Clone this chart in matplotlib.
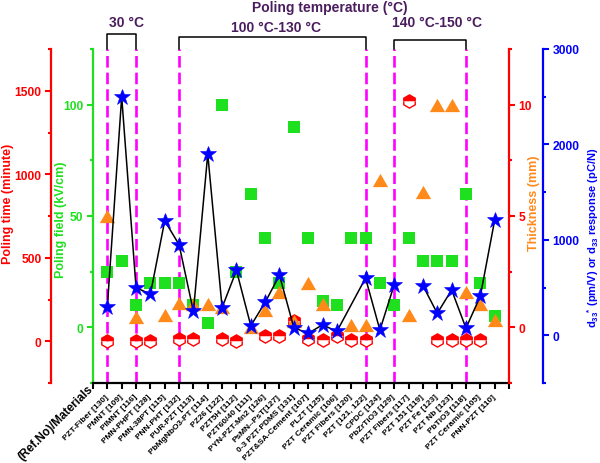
import numpy as np
import matplotlib.pyplot as plt
from matplotlib.ticker import MultipleLocator

plt.rcParams['font.family'] = ['Liberation Sans', 'DejaVu Sans']
plt.rcParams['font.weight'] = 'bold'
plt.rcParams['mathtext.fontset'] = 'custom'
plt.rcParams['mathtext.rm'] = 'Liberation Sans:bold'
plt.rcParams['mathtext.bf'] = 'Liberation Sans:bold'
plt.rcParams['mathtext.it'] = 'Liberation Sans:bold'

nan = np.nan

# materials (ref. no.)
materials = ['PZT-Fiber [130]', 'PMNT [109]', 'PIMNT [116]', 'PMN-PHPT [128]',
             'PMN-38PT [115]', 'PNN-PHT [132]', 'PUR-PZT [113]', 'PbMgNbO3-PT [114]',
             'PZ26 [122]', 'PZT5H [112]', 'PZT60/40 [111]', 'PYN-PZT-Mn2 [126]',
             'PsMN--PsT[127]', '0-3 PZT-PDMS [131]', 'PZT&SA-Cement [107]', 'PLZT [125]',
             'PZT Ceramic [106]', 'PZT Fibers [120]', 'PZT [121, 122]', 'CPDC [124]',
             'PbZrTiO3 [129]', 'PZT Fibers [117]', 'PZT 151 [119]', 'PZT Fe [123]',
             'PZT Nb [123]', 'PbTiO3 [118]', 'PZT Ceramic [105]', 'PNN-PZT [110]']

# poling time (minute)
poling_time = [0, nan, 0, 0, nan, 15, 15, nan, 15, 0, nan, 30, 30, 120,
               15, 10, 30, 10, 10, nan, nan, 1440, nan, 10, 10, 10, 10, nan]
# poling field (kV/cm)
poling_field = [25, 30, 10, 20, 20, 20, 10, 2, 100, 25, 60, 40, 20, 90,
                40, 12, 10, 40, 40, 20, 10, 40, 30, 30, 30, 60, 20, 5]
# thickness (mm)
thickness = [5, nan, 0.45, nan, 0.55, 1.1, 1.05, 1.05, 0.9, nan, 0, 0.8, 1.6, 0.3,
             2.0, 1.05, nan, 0.1, 0.1, 6.6, nan, 0.55, 6.1, 10, 10, 1.6, 1.05, 0.35]
# d33* (pm/V) or d33 (pC/N)
d33 = [300, 2500, 500, 430, 1200, 950, 250, 1900, 290, 680, 100, 345, 630, 80,
       20, 110, 40, nan, 600, 55, 530, nan, 520, 230, 475, 75, 410, 1205]

# poling temperature groups: first idx, last idx, label
temp_groups = [(0, 2, '30 °C'), (5, 18, '100 °C-130 °C'), (20, 25, '140 °C-150 °C')]

x = np.arange(len(materials))
d33 = np.array(d33)

RED = '#ff0000'
GREEN = '#1ee01e'
ORANGE = '#ff8a1a'
BLUE = '#0000ff'
PURPLE = '#4a1d5e'
MAGENTA = '#ff00ff'

fig = plt.figure(figsize=(6, 4.64), dpi=100)
ax = fig.add_axes([93 / 600, 1 - 384 / 464, 416 / 600, 334 / 464])
ax_time = ax.twinx()
ax_thk = ax.twinx()
ax_d33 = ax.twinx()

spine_w = 1.6
for a in (ax, ax_time, ax_thk, ax_d33):
    for s in a.spines.values():
        s.set_visible(False)
        s.set_linewidth(spine_w)

# main axes: poling field (green) + materials on x
ax.spines['left'].set_visible(True)
ax.spines['left'].set_color(GREEN)
ax.spines['bottom'].set_visible(True)
ax.spines['bottom'].set_color('black')
ax.set_xlim(-1, 28)
ax.set_xticks(np.arange(-1, 29))
ax.set_xticklabels([''] + materials + [''], rotation=45, ha='right', va='center',
                   rotation_mode='anchor', fontsize=6, fontweight='bold')
ax.tick_params(axis='x', direction='out', length=4.3, width=1.5, pad=4.5)
ax.set_ylim(-25, 125)
ax.yaxis.set_major_locator(MultipleLocator(50))
ax.yaxis.set_minor_locator(MultipleLocator(25))
ax.tick_params(axis='y', which='both', colors=GREEN, direction='out', width=1.5,
               labelsize=8.7, pad=2.5)
ax.tick_params(axis='y', which='major', length=4.3)
ax.tick_params(axis='y', which='minor', length=2.5)

# poling time (red, offset left)
ax_time.spines['left'].set_visible(True)
ax_time.spines['left'].set_color(RED)
ax_time.spines['left'].set_position(('axes', -42 / 416))
ax_time.yaxis.set_ticks_position('left')
ax_time.set_ylim(-250, 1750)
ax_time.yaxis.set_major_locator(MultipleLocator(500))
ax_time.yaxis.set_minor_locator(MultipleLocator(250))
ax_time.tick_params(axis='y', which='both', colors=RED, direction='out', width=1.5,
                    labelsize=8.7, pad=2.5)
ax_time.tick_params(axis='y', which='major', length=4.3)
ax_time.tick_params(axis='y', which='minor', length=2.5)

# thickness (red axis at right)
ax_thk.spines['right'].set_visible(True)
ax_thk.spines['right'].set_color(RED)
ax_thk.set_ylim(-2.5, 12.5)
ax_thk.yaxis.set_major_locator(MultipleLocator(5))
ax_thk.yaxis.set_minor_locator(MultipleLocator(2.5))
ax_thk.tick_params(axis='y', which='both', colors=RED, direction='out', width=1.5,
                   labelsize=8.7, pad=2.5)
ax_thk.tick_params(axis='y', which='major', length=4.3)
ax_thk.tick_params(axis='y', which='minor', length=2.5)

# d33 (blue axis, offset right)
ax_d33.spines['right'].set_visible(True)
ax_d33.spines['right'].set_color(BLUE)
ax_d33.spines['right'].set_position(('axes', 450 / 416))
ax_d33.set_ylim(-500, 3000)
ax_d33.yaxis.set_major_locator(MultipleLocator(1000))
ax_d33.yaxis.set_minor_locator(MultipleLocator(500))
ax_d33.tick_params(axis='y', which='both', colors=BLUE, direction='out', width=1.5,
                   labelsize=8.7, pad=2.5)
ax_d33.tick_params(axis='y', which='major', length=4.3)
ax_d33.tick_params(axis='y', which='minor', length=2.5)

# temperature dividers and brackets
xt = ax.get_xaxis_transform()
bracket_top = [1.045, 1.035, 1.028]
label_y = [1.081, 1.066, 1.082]
label_dx = [0.35, 0.25, 0.5]
for (i0, i1, lab), yt, ly, dx in zip(temp_groups, bracket_top, label_y, label_dx):
    for i in (i0, i1):
        ax.axvline(i, color=MAGENTA, lw=1.9, ls=(0, (4.4, 1.9)), zorder=0)
    ax.plot([i0, i0, i1, i1], [1, yt, yt, 1], color='black', lw=1.1,
            transform=xt, clip_on=False)
    ax.text((i0 + i1) / 2 + dx, ly, lab, transform=xt, ha='center', va='center',
            fontsize=10, fontweight='bold', color=PURPLE)

fig.text(330 / 600, 1 - 8 / 464, 'Poling temperature (°C)', ha='center', va='center',
         fontsize=10, fontweight='bold', color=PURPLE)

# data
ax.plot(x, poling_field, ls='none', marker='s', ms=8.6, mew=0, color=GREEN, zorder=3)
ax_time.plot(x, poling_time, ls='none', marker='h', ms=9.5, mew=1.0, mec=RED,
             mfc=RED, mfcalt='white', fillstyle='top', zorder=3)
tri = [(0, 0.87), (-1, -0.87), (1, -0.87)]
ax_thk.plot(x, thickness, ls='none', marker=tri, ms=11, mew=0, color=ORANGE, zorder=3)

ok = ~np.isnan(d33)
seg1 = ok & (x < 21)
seg2 = ok & (x > 21)
ax_d33.plot(x[seg1], d33[seg1], color='black', lw=1.1, zorder=2)
ax_d33.plot(x[seg2], d33[seg2], color='black', lw=1.1, zorder=2)
ax_d33.plot(x, d33, ls='none', marker='*', ms=12, mew=0.4, color=BLUE, zorder=3)

# axis titles
fig.text(8 / 600, 1 - 204 / 464, 'Poling time (minute)', rotation=90, ha='center',
         va='center', fontsize=9, fontweight='bold', color=RED)
fig.text(61 / 600, 1 - 220 / 464, 'Poling field (kV/cm)', rotation=90, ha='center',
         va='center', fontsize=9, fontweight='bold', color=GREEN)
fig.text(534 / 600, 1 - 203 / 464, 'Thickness (mm)', rotation=90, ha='center',
         va='center', fontsize=9, fontweight='bold', color=ORANGE)
fig.text(593 / 600, 1 - 238 / 464,
         r'd$_{33}$$^{*}$ (pm/V) or d$_{33}$ response (pC/N)', rotation=90,
         ha='center', va='center', fontsize=8, fontweight='bold', color=BLUE)

ax.text(-1.1, -0.01, '(Ref.No)/Materials', transform=xt, rotation=45, ha='right',
        va='center', rotation_mode='anchor', fontsize=8.5, fontweight='bold')

fig.savefig('out.png', dpi=100)
